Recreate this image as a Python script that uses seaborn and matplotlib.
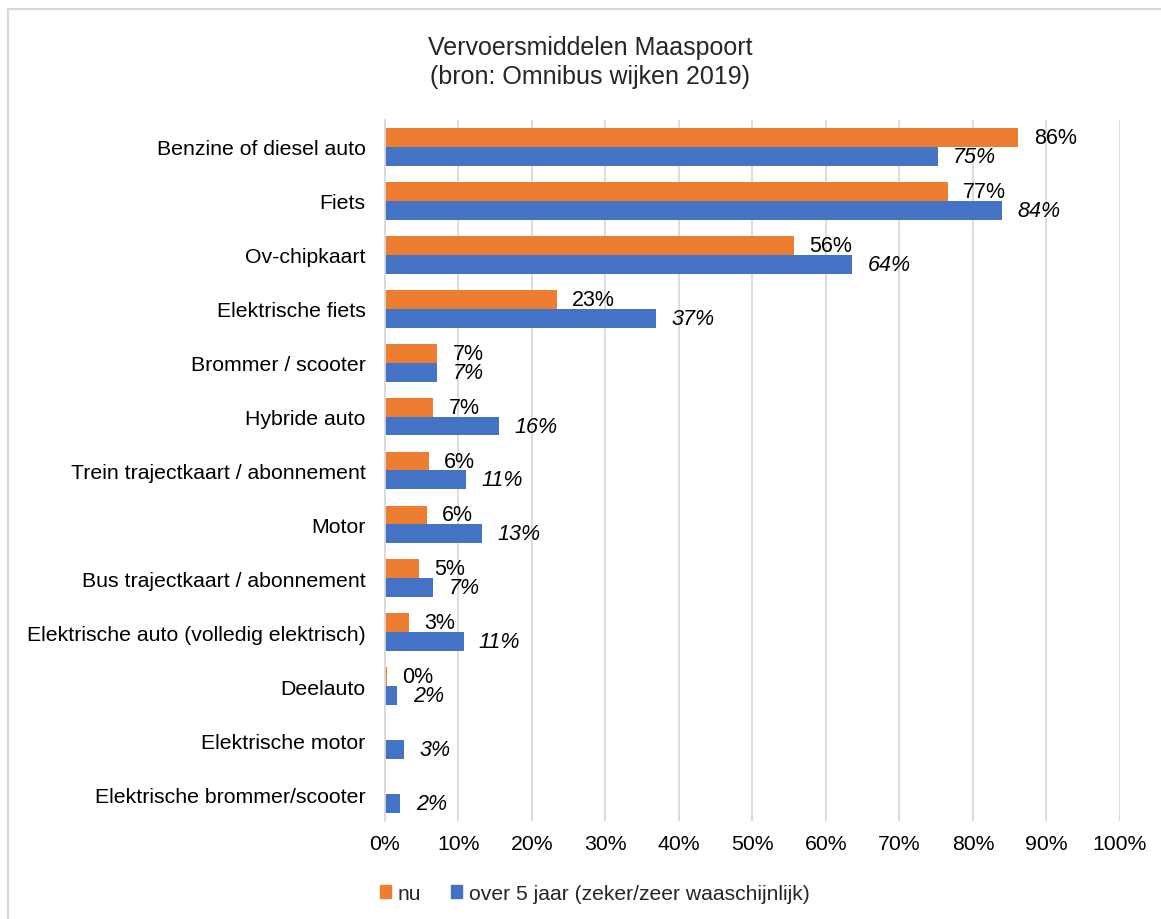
import pandas as pd
import matplotlib
matplotlib.use("Agg")
import matplotlib.pyplot as plt
import matplotlib.patches as mpatches
import seaborn as sns

# data (fractions)
categories = [
    "Benzine of diesel auto", "Fiets", "Ov-chipkaart", "Elektrische fiets",
    "Brommer / scooter", "Hybride auto", "Trein trajectkaart / abonnement",
    "Motor", "Bus trajectkaart / abonnement",
    "Elektrische auto (volledig elektrisch)", "Deelauto",
    "Elektrische motor", "Elektrische brommer/scooter",
]
nu = [0.862, 0.766, 0.556, 0.234, 0.071, 0.066, 0.060, 0.057, 0.046, 0.032, 0.003, None, None]
over5 = [0.752, 0.840, 0.636, 0.369, 0.071, 0.155, 0.110, 0.132, 0.066, 0.107, 0.017, 0.026, 0.021]
series_names = ["nu", "over 5 jaar (zeker/zeer waaschijnlijk)"]
colors = ["#ED7D31", "#4472C4"]

rows = []
for cat, a, b in zip(categories, nu, over5):
    if a is not None:
        rows.append((cat, series_names[0], a))
    rows.append((cat, series_names[1], b))
df = pd.DataFrame(rows, columns=["cat", "serie", "val"])

sns.set_style("white")
plt.rcParams["font.family"] = ["Liberation Sans", "DejaVu Sans"]

fig = plt.figure(figsize=(11.61, 9.2), dpi=100)
ax = fig.add_axes([0.3316, 0.1065, 0.6330, 0.762])

sns.barplot(data=df, y="cat", x="val", hue="serie", order=categories,
            hue_order=series_names, palette=colors, orient="h",
            width=0.70, errorbar=None, saturation=1, linewidth=0,
            ax=ax, legend=False)

# value labels: orange normal, blue italic
for cont, style in zip(ax.containers, ["normal", "italic"]):
    labels = [f"{round(bar.get_width() * 100)}%" for bar in cont]
    ax.bar_label(cont, labels=labels, padding=11, fontsize=15.5,
                 fontstyle=style, color="black")

ax.set_xlim(0, 1.0)
ax.set_xticks([i / 10 for i in range(11)])
ax.set_xticklabels([f"{i * 10}%" for i in range(11)])
ax.set_ylim(len(categories) - 0.5, -0.5)
ax.set_xlabel("")
ax.set_ylabel("")
ax.grid(axis="x", color="#d9d9d9", linewidth=1.3)
ax.set_axisbelow(True)
for s in ["top", "right", "bottom"]:
    ax.spines[s].set_visible(False)
ax.spines["left"].set_color("#d9d9d9")
ax.spines["left"].set_linewidth(1.3)
ax.tick_params(axis="both", length=0, labelsize=15.3, colors="black")
ax.tick_params(axis="y", pad=14)
ax.tick_params(axis="x", pad=9)

fig.text(0.508, 0.932, "Vervoersmiddelen Maaspoort\n(bron: Omnibus wijken 2019)",
         ha="center", va="center", fontsize=18, linespacing=1.3)

handles = [mpatches.Patch(color=c, label=n) for c, n in zip(colors, series_names)]
fig.legend(handles=handles, loc="center", bbox_to_anchor=(0.512, 0.028), ncol=2,
           frameon=False, fontsize=15.2, handlelength=0.55, handleheight=0.55,
           handletextpad=0.3, columnspacing=1.4)

# light border of the chart area (left/top visible in the reference)
fig.patches.append(mpatches.Rectangle((8 / 1161, -0.1), 1.2, 1 - 10 / 920 + 0.1,
                                      transform=fig.transFigure, fill=False,
                                      edgecolor="#d9d9d9", linewidth=1.5))

fig.savefig("out.png", dpi=100, facecolor="white")
